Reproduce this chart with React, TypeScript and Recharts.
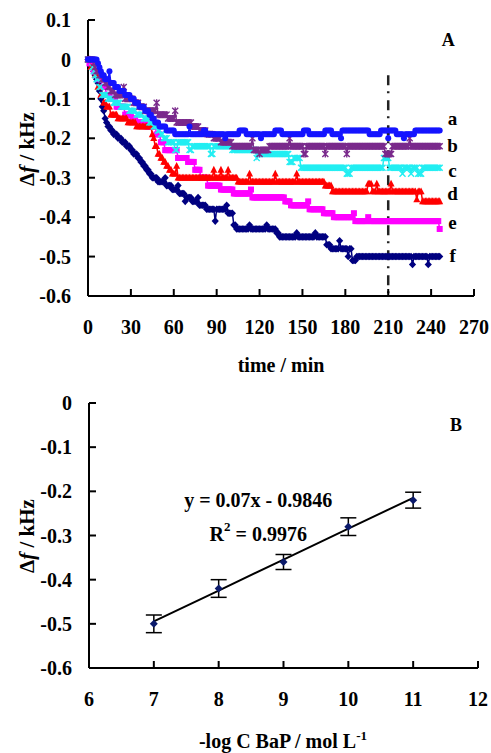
import React from 'react'
import { ComposedChart, Line, Scatter, XAxis, YAxis, ReferenceLine, ReferenceDot, ErrorBar } from 'recharts'

// Panel A: frequency shift readings, one per minute, written as [Δf (kHz), number of readings] runs
const runsA: [number, number][] = [
  [0, 7], [-0.01, 1], [-0.02, 1], [-0.03, 1], [-0.04, 2], [-0.05, 3], [-0.03, 1], [-0.06, 3], [-0.07, 3],
  [-0.08, 4], [-0.09, 4], [-0.1, 3], [-0.11, 3], [-0.12, 4], [-0.13, 3], [-0.14, 2], [-0.15, 2], [-0.16, 3],
  [-0.17, 5], [-0.18, 6], [-0.19, 10], [-0.17, 1], [-0.19, 9], [-0.18, 2], [-0.19, 13], [-0.2, 1], [-0.19, 9],
  [-0.18, 5], [-0.19, 10], [-0.2, 1], [-0.19, 9], [-0.18, 5], [-0.19, 15], [-0.18, 4], [-0.19, 11], [-0.18, 5],
  [-0.19, 6], [-0.2, 1], [-0.18, 19], [-0.19, 8], [-0.18, 5], [-0.2, 1], [-0.18, 5], [-0.19, 5], [-0.2, 1],
  [-0.19, 7], [-0.18, 18],
]
const runsB: [number, number][] = [
  [0, 4], [-0.01, 1], [-0.02, 1], [-0.03, 2], [-0.04, 2], [-0.05, 2], [-0.06, 2], [-0.07, 2], [-0.08, 3],
  [-0.09, 6], [-0.07, 1], [-0.1, 6], [-0.11, 4], [-0.12, 4], [-0.13, 8], [-0.11, 1], [-0.14, 7], [-0.15, 5],
  [-0.13, 1], [-0.16, 11], [-0.17, 5], [-0.18, 5], [-0.19, 5], [-0.2, 5], [-0.21, 8], [-0.22, 14], [-0.2, 1],
  [-0.23, 4], [-0.24, 1], [-0.23, 6], [-0.22, 5], [-0.22, 9], [-0.2, 1], [-0.22, 9], [-0.24, 2], [-0.22, 13],
  [-0.24, 1], [-0.22, 14], [-0.24, 1], [-0.22, 26], [-0.24, 5], [-0.22, 12], [-0.2, 1], [-0.22, 21],
]
const runsC: [number, number][] = [
  [0, 3], [-0.02, 1], [-0.03, 1], [-0.04, 1], [-0.05, 2], [-0.07, 2], [-0.09, 4], [-0.1, 4], [-0.11, 5],
  [-0.12, 6], [-0.13, 5], [-0.14, 5], [-0.15, 4], [-0.16, 3], [-0.17, 3], [-0.18, 2], [-0.19, 2], [-0.2, 3],
  [-0.21, 5], [-0.23, 2], [-0.21, 8], [-0.23, 2], [-0.22, 13], [-0.24, 2], [-0.22, 13], [-0.23, 17], [-0.25, 1],
  [-0.24, 22], [-0.26, 3], [-0.25, 5], [-0.275, 32], [-0.29, 3], [-0.275, 23], [-0.25, 4], [-0.275, 9], [-0.29, 1],
  [-0.275, 5], [-0.29, 1], [-0.275, 4], [-0.29, 3], [-0.275, 13],
]
const runsD: [number, number][] = [
  [0, 2], [-0.02, 3], [-0.04, 2], [-0.07, 2], [-0.09, 2], [-0.11, 2], [-0.12, 3], [-0.14, 5], [-0.15, 7],
  [-0.16, 6], [-0.17, 11], [-0.19, 1], [-0.2, 1], [-0.22, 2], [-0.24, 2], [-0.25, 2], [-0.26, 2], [-0.27, 2],
  [-0.28, 2], [-0.29, 3], [-0.27, 1], [-0.3, 25], [-0.28, 1], [-0.3, 4], [-0.28, 1], [-0.3, 4], [-0.28, 1],
  [-0.3, 6], [-0.31, 8], [-0.29, 1], [-0.31, 17], [-0.29, 1], [-0.31, 14], [-0.29, 1], [-0.31, 19], [-0.32, 5],
  [-0.335, 25], [-0.315, 3], [-0.335, 3], [-0.315, 1], [-0.335, 9], [-0.315, 1], [-0.335, 17], [-0.355, 1], [-0.335, 3],
  [-0.36, 13],
]
const runsE: [number, number][] = [
  [0, 1], [-0.01, 3], [-0.03, 3], [-0.05, 3], [-0.07, 3], [-0.09, 3], [-0.1, 4], [-0.12, 6], [-0.14, 5],
  [-0.15, 3], [-0.16, 7], [-0.17, 7], [-0.19, 3], [-0.21, 3], [-0.23, 9], [-0.25, 7], [-0.26, 5], [-0.28, 4],
  [-0.3, 5], [-0.32, 9], [-0.33, 9], [-0.34, 12], [-0.33, 1], [-0.35, 23], [-0.36, 4], [-0.37, 12], [-0.36, 1],
  [-0.38, 10], [-0.39, 7], [-0.4, 14], [-0.39, 1], [-0.41, 9], [-0.4, 1], [-0.41, 49], [-0.43, 1],
]
const runsF: [number, number][] = [
  [0, 3], [-0.01, 1], [-0.03, 1], [-0.04, 1], [-0.05, 1], [-0.06, 1], [-0.08, 1], [-0.1, 1], [-0.12, 1],
  [-0.13, 1], [-0.15, 1], [-0.16, 1], [-0.17, 2], [-0.18, 2], [-0.19, 3], [-0.2, 3], [-0.21, 3], [-0.22, 3],
  [-0.23, 2], [-0.24, 3], [-0.25, 2], [-0.26, 2], [-0.27, 2], [-0.28, 2], [-0.29, 2], [-0.3, 4], [-0.31, 5],
  [-0.3, 1], [-0.32, 4], [-0.33, 4], [-0.32, 1], [-0.34, 4], [-0.36, 1], [-0.35, 4], [-0.36, 4], [-0.35, 1],
  [-0.37, 5], [-0.38, 6], [-0.41, 1], [-0.38, 7], [-0.37, 1], [-0.39, 4], [-0.42, 2], [-0.43, 9], [-0.42, 1],
  [-0.43, 11], [-0.42, 1], [-0.43, 6], [-0.44, 2], [-0.45, 12], [-0.44, 1], [-0.45, 12], [-0.44, 1], [-0.45, 7],
  [-0.47, 3], [-0.48, 6], [-0.46, 1], [-0.48, 5], [-0.5, 1], [-0.48, 2], [-0.51, 3], [-0.5, 39], [-0.52, 1],
  [-0.5, 10], [-0.52, 1], [-0.5, 8],
]

const timeTicks = [0, 30, 60, 90, 120, 150, 180, 210, 240, 270]
const shiftTicksA = [0.1, 0, -0.1, -0.2, -0.3, -0.4, -0.5, -0.6]

// Panel B: calibration points
const logConc = [7, 8, 9, 10, 11]
const shiftB = [-0.5, -0.42, -0.36, -0.28, -0.22]
const errB = [0.02, 0.02, 0.017, 0.02, 0.018]
const fitSlope = 0.07
const fitIntercept = -0.9846
const logTicks = [6, 7, 8, 9, 10, 11, 12]
const shiftTicksB = [0, -0.1, -0.2, -0.3, -0.4, -0.5, -0.6]

const serif = "Liberation Serif, 'Times New Roman', 'DejaVu Serif', serif"

const expand = (runs: [number, number][]) => {
  const out: number[] = []
  runs.forEach(([v, n]) => {
    for (let i = 0; i < n; i++) out.push(v)
  })
  return out
}

type Mark = 'circle' | 'star' | 'cross' | 'triangle' | 'square' | 'diamond'

const seriesA: { key: string; runs: [number, number][]; color: string; mark: Mark; labelY: number }[] = [
  { key: 'f', runs: runsF, color: '#000080', mark: 'diamond', labelY: -0.497 },
  { key: 'e', runs: runsE, color: '#ff00ff', mark: 'square', labelY: -0.413 },
  { key: 'd', runs: runsD, color: '#ff0000', mark: 'triangle', labelY: -0.341 },
  { key: 'c', runs: runsC, color: '#22eef2', mark: 'cross', labelY: -0.282 },
  { key: 'b', runs: runsB, color: '#7a2a8c', mark: 'star', labelY: -0.218 },
  { key: 'a', runs: runsA, color: '#1414ff', mark: 'circle', labelY: -0.149 },
]

const expanded = seriesA.map((s) => expand(s.runs))
const maxLen = Math.max(...expanded.map((e) => e.length))
const tableA = Array.from({ length: maxLen }, (_, t) => {
  const row: Record<string, number> = { t }
  seriesA.forEach((s, i) => {
    if (t < expanded[i].length) row[s.key] = expanded[i][t]
  })
  return row
})

const tableB = logConc.map((x, i) => ({ x, y: shiftB[i], err: errB[i], fit: fitSlope * x + fitIntercept }))

const makeDot = (mark: Mark, color: string, id: string) => (p: any) => {
  const { cx, cy, index } = p
  const key = `${id}-${index}`
  if (cx == null || cy == null || Number.isNaN(cy)) return <g key={key} />
  switch (mark) {
    case 'circle':
      return <circle key={key} cx={cx} cy={cy} r={3} fill={color} />
    case 'diamond':
      return <polygon key={key} points={`${cx},${cy - 3.8} ${cx + 3.6},${cy} ${cx},${cy + 3.8} ${cx - 3.6},${cy}`} fill={color} />
    case 'square':
      return <rect key={key} x={cx - 3} y={cy - 3} width={6} height={6} fill={color} />
    case 'triangle':
      return <polygon key={key} points={`${cx},${cy - 4} ${cx + 3.5},${cy + 2.8} ${cx - 3.5},${cy + 2.8}`} fill={color} />
    case 'cross':
      return (
        <path key={key} d={`M${cx - 3},${cy - 3}L${cx + 3},${cy + 3}M${cx + 3},${cy - 3}L${cx - 3},${cy + 3}`}
          stroke={color} strokeWidth={1.4} />
      )
    default:
      return (
        <path key={key}
          d={`M${cx - 3},${cy - 3}L${cx + 3},${cy + 3}M${cx + 3},${cy - 3}L${cx - 3},${cy + 3}M${cx},${cy - 3.5}L${cx},${cy + 3.5}`}
          stroke={color} strokeWidth={1.4} />
      )
  }
}

const tickStyle = { fontSize: 20, fontWeight: 700, fill: '#000', fontFamily: serif }
const axisStroke = { stroke: '#000', strokeWidth: 2 }

const textMark = (text: string, size = 19) => (p: any) => (
  <text x={p.cx} y={p.cy} textAnchor="middle" dominantBaseline="central" fontSize={size} fontWeight={700}
    fontFamily={serif} fill="#000">
    {text}
  </text>
)

const Diamond = (p: any) => (
  <polygon points={`${p.cx},${p.cy - 4} ${p.cx + 4},${p.cy} ${p.cx},${p.cy + 4} ${p.cx - 4},${p.cy}`} fill="#0b1a6b" />
)

const Equation = (p: any) => (
  <text x={p.cx} y={p.cy} textAnchor="middle" dominantBaseline="central" fontSize={20} fontWeight={700}
    fontFamily={serif} fill="#000">
    y = 0.07x - 0.9846
  </text>
)

const RSquared = (p: any) => (
  <text x={p.cx} y={p.cy} textAnchor="middle" dominantBaseline="central" fontSize={20} fontWeight={700}
    fontFamily={serif} fill="#000">
    R<tspan dy={-8} fontSize={13}>2</tspan><tspan dy={8}> = 0.9976</tspan>
  </text>
)

const App = () => {
  return (
    <div style={{ position: 'absolute', left: 0, top: 0, width: 491, height: 753, background: '#fff', fontFamily: serif }}>
      <div style={{ position: 'absolute', left: 0, top: 0 }}>
        <ComposedChart width={491} height={380} data={tableA} margin={{ top: 20, right: 17, left: 28, bottom: 54 }}>
          <XAxis type="number" dataKey="t" domain={[0, 270]} ticks={timeTicks} interval={0} height={30}
            tickSize={-7} tickMargin={31} tick={tickStyle} axisLine={axisStroke} tickLine={axisStroke} />
          <XAxis xAxisId="top" orientation="top" type="number" domain={[0, 270]} height={0}
            tick={false} tickLine={false} axisLine={axisStroke} />
          <YAxis type="number" domain={[-0.6, 0.1]} ticks={shiftTicksA} interval={0} width={60}
            tickSize={-7} tickMargin={24} tick={tickStyle} axisLine={axisStroke} tickLine={axisStroke} />
          <YAxis yAxisId="right" orientation="right" type="number" domain={[-0.6, 0.1]} width={0}
            tick={false} tickLine={false} axisLine={axisStroke} />
          {seriesA.map((s) => (
            <Line key={s.key} dataKey={s.key} stroke={s.color} strokeWidth={1.5} isAnimationActive={false}
              dot={makeDot(s.mark, s.color, s.key)} activeDot={false} />
          ))}
          <ReferenceLine segment={[{ x: 210, y: -0.04 }, { x: 210, y: -0.6 }]} stroke="#222" strokeWidth={2.5}
            strokeDasharray="10 6 2 7" />
          {seriesA.map((s) => (
            <ReferenceDot key={`lab-${s.key}`} x={255} y={s.labelY} r={0} shape={textMark(s.key)} />
          ))}
          <ReferenceDot x={252} y={0.05} r={0} shape={textMark('A', 18)} />
        </ComposedChart>
      </div>
      <div style={{ position: 'absolute', left: 0, top: 380 }}>
        <ComposedChart width={491} height={373} data={tableB} margin={{ top: 23, right: 13, left: 29, bottom: 55 }}>
          <XAxis type="number" dataKey="x" domain={[6, 12]} ticks={logTicks} interval={0} height={30}
            tickSize={-7} tickMargin={31} tick={tickStyle} axisLine={axisStroke} tickLine={axisStroke} />
          <XAxis xAxisId="top" orientation="top" type="number" domain={[6, 12]} height={0}
            tick={false} tickLine={false} axisLine={axisStroke} />
          <YAxis type="number" domain={[-0.6, 0]} ticks={shiftTicksB} interval={0} width={60}
            tickSize={-7} tickMargin={24} tick={tickStyle} axisLine={axisStroke} tickLine={axisStroke} />
          <YAxis yAxisId="right" orientation="right" type="number" domain={[-0.6, 0]} width={0}
            tick={false} tickLine={false} axisLine={axisStroke} />
          <Line dataKey="fit" stroke="#000" strokeWidth={2} dot={false} activeDot={false} isAnimationActive={false} />
          <Scatter dataKey="y" shape={Diamond} isAnimationActive={false}>
            <ErrorBar dataKey="err" direction="y" width={8} stroke="#000" strokeWidth={1.5} />
          </Scatter>
          <ReferenceDot x={8.61} y={-0.219} r={0} shape={Equation} />
          <ReferenceDot x={8.61} y={-0.296} r={0} shape={RSquared} />
          <ReferenceDot x={11.66} y={-0.05} r={0} shape={textMark('B', 18)} />
        </ComposedChart>
      </div>
      <svg width={491} height={753} style={{ position: 'absolute', left: 0, top: 0, pointerEvents: 'none' }}>
        <g fontFamily={serif} fontWeight={700} fill="#000">
          <text x={281} y={372} textAnchor="middle" fontSize={20}>time / min</text>
          <text x={34} y={149} textAnchor="middle" fontSize={21} transform="rotate(-90 34 149)">
            Δ<tspan fontStyle="italic">f</tspan> / kHz
          </text>
          <text x={34} y={536} textAnchor="middle" fontSize={21} transform="rotate(-90 34 536)">
            Δ<tspan fontStyle="italic">f</tspan> / kHz
          </text>
          <text x={283} y={748} textAnchor="middle" fontSize={20}>
            -log C BaP / mol L<tspan dy={-8} fontSize={13}>-1</tspan>
          </text>
        </g>
      </svg>
    </div>
  )
}

export default App
